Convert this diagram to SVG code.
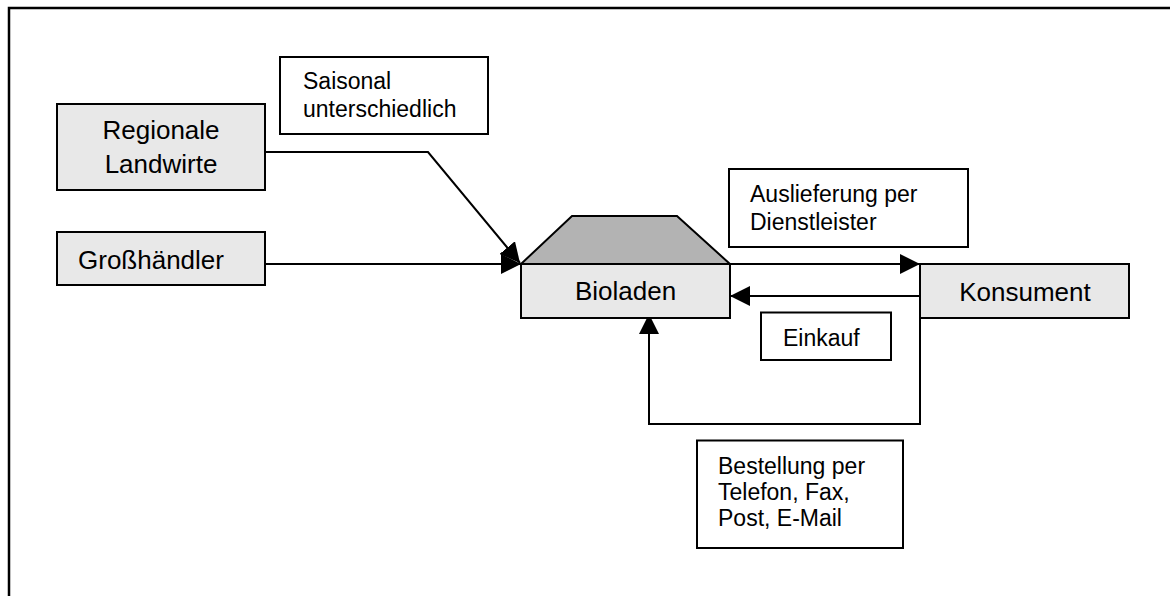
<svg xmlns="http://www.w3.org/2000/svg" width="1170" height="596" viewBox="0 0 1170 596">
  <style>
    .node { fill: #e8e8e8; stroke: #000; stroke-width: 2; }
    .label { fill: #fff; stroke: #000; stroke-width: 2; }
    .roof { fill: #b3b3b3; stroke: #000; stroke-width: 2; stroke-linejoin: miter; }
    .nt { font-family: "Liberation Sans", Arial, sans-serif; font-size: 26px; fill: #000; }
    .lt { font-family: "Liberation Sans", Arial, sans-serif; font-size: 23px; fill: #000; }
    .conn { fill: none; stroke: #000; stroke-width: 2; }
  </style>
  <defs>
    <marker id="arrow" markerUnits="userSpaceOnUse" markerWidth="20" markerHeight="20" refX="20" refY="10" orient="auto">
      <path d="M0,0 L20,10 L0,20 Z" fill="#000"/>
    </marker>
  </defs>
  <rect x="0" y="0" width="1170" height="596" fill="#fff"/>
  <path d="M9,600 V8 H1175" fill="none" stroke="#000" stroke-width="2.5"/>

  <g id="connectors">
    <path class="conn" d="M265,152 H428 L520,263" marker-end="url(#arrow)"/>
    <path class="conn" d="M265,264 H521" marker-end="url(#arrow)"/>
    <path class="conn" d="M730,264 H920" marker-end="url(#arrow)"/>
    <path class="conn" d="M920,296 H730" marker-end="url(#arrow)"/>
    <path class="conn" d="M920,318 V424 H649 V314" marker-end="url(#arrow)"/>
  </g>

  <g id="regionale-landwirte">
    <rect class="node" x="57" y="104" width="208" height="86"/>
    <text class="nt" x="161" y="139" text-anchor="middle">Regionale</text>
    <text class="nt" x="161" y="173" text-anchor="middle">Landwirte</text>
  </g>

  <g id="grosshaendler">
    <rect class="node" x="57" y="232" width="208" height="53"/>
    <text class="nt" x="78" y="269">Großhändler</text>
  </g>

  <g id="bioladen">
    <polygon class="roof" points="521,264 572,216 677,216 730,264"/>
    <rect class="node" x="521" y="264" width="209" height="54"/>
    <text class="nt" x="625.5" y="300" text-anchor="middle">Bioladen</text>
  </g>

  <g id="konsument">
    <rect class="node" x="920" y="264" width="209" height="54"/>
    <text class="nt" x="1025" y="300.5" text-anchor="middle">Konsument</text>
  </g>

  <g id="label-saisonal">
    <rect class="label" x="280" y="57" width="208" height="77"/>
    <text class="lt" x="303" y="89">Saisonal</text>
    <text class="lt" x="303" y="116.5">unterschiedlich</text>
  </g>

  <g id="label-auslieferung">
    <rect class="label" x="729" y="169" width="239" height="78"/>
    <text class="lt" x="750" y="201.5">Auslieferung per</text>
    <text class="lt" x="750" y="230">Dienstleister</text>
  </g>

  <g id="label-einkauf">
    <rect class="label" x="761" y="312.5" width="130" height="47.5"/>
    <text class="lt" x="783" y="345.5">Einkauf</text>
  </g>

  <g id="label-bestellung">
    <rect class="label" x="697" y="440.5" width="206" height="107.5"/>
    <text class="lt" x="718" y="474">Bestellung per</text>
    <text class="lt" x="718" y="500">Telefon, Fax,</text>
    <text class="lt" x="718" y="526">Post, E-Mail</text>
  </g>
</svg>
